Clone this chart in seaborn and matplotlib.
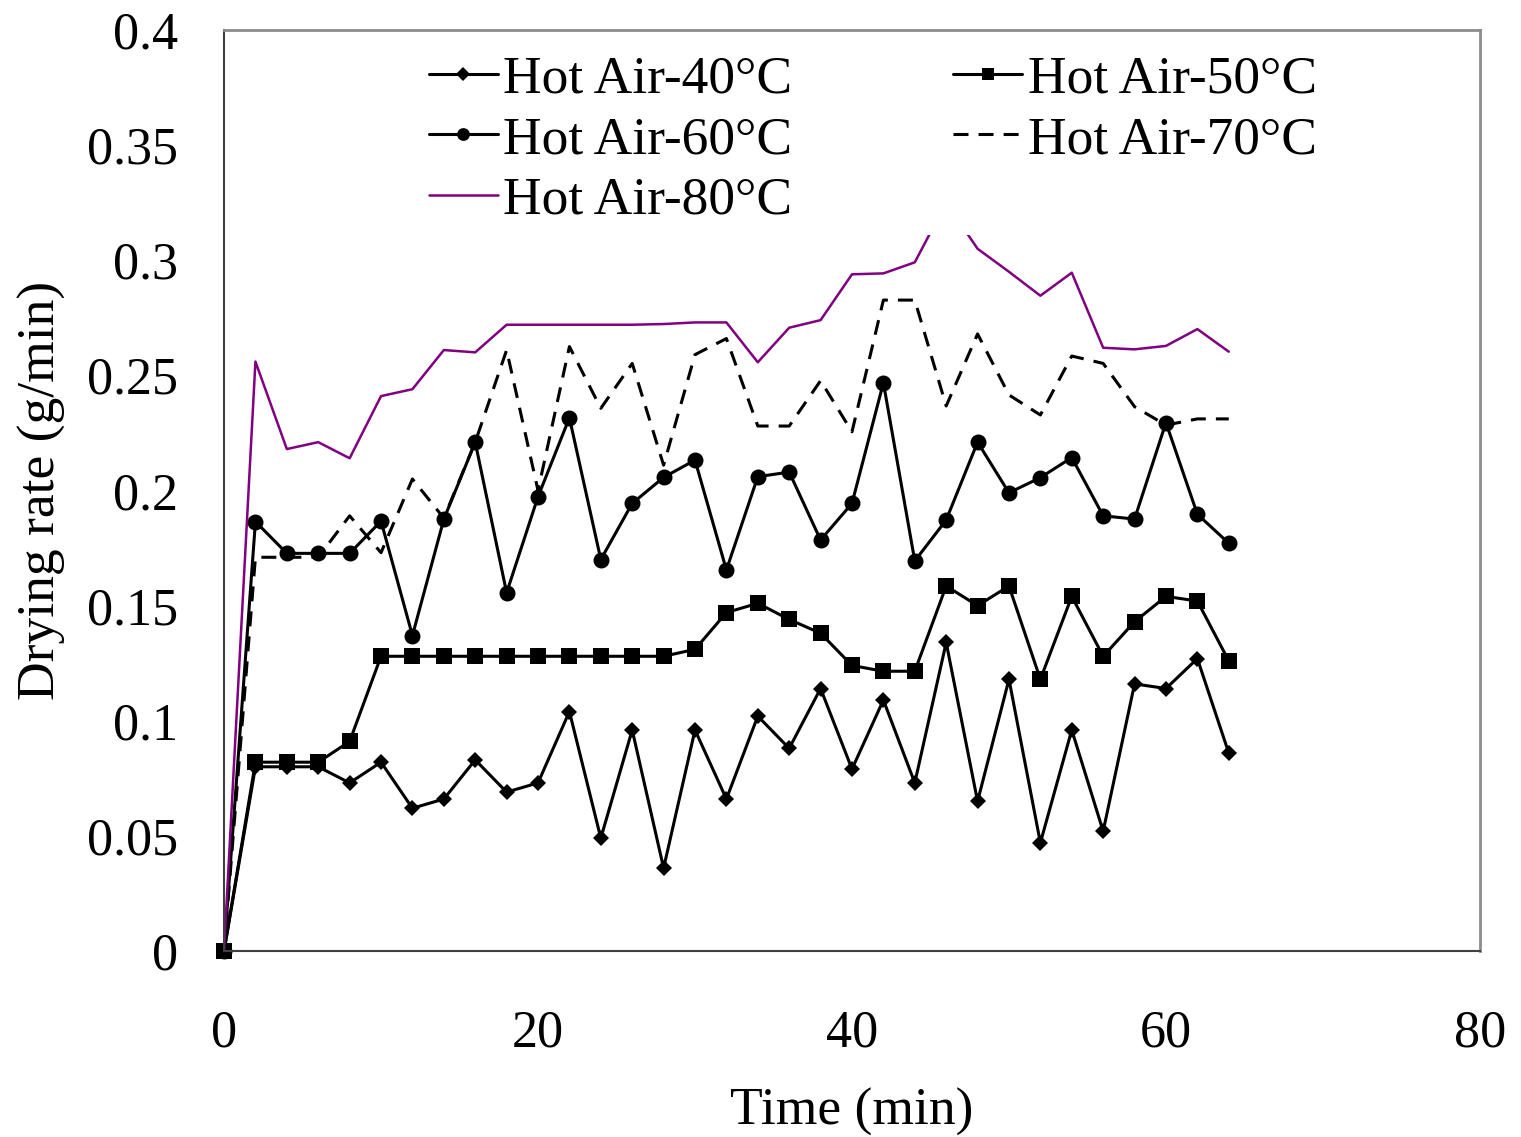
import numpy as np
import seaborn as sns
import matplotlib
matplotlib.use("Agg")
import matplotlib.pyplot as plt

# Time (min)
time_min = list(range(0, 66, 2))

# Drying rate (g/min) for each hot air temperature
hot_air_40 = [0, 0.080, 0.080, 0.080, 0.073, 0.082, 0.062, 0.066, 0.083, 0.069, 0.073,
              0.104, 0.049, 0.096, 0.036, 0.096, 0.066, 0.102, 0.088, 0.114, 0.079,
              0.109, 0.073, 0.134, 0.065, 0.118, 0.047, 0.096, 0.052, 0.116, 0.114,
              0.127, 0.086]
hot_air_50 = [0, 0.082, 0.082, 0.082, 0.091, 0.128, 0.128, 0.128, 0.128, 0.128, 0.128,
              0.128, 0.128, 0.128, 0.128, 0.131, 0.147, 0.151, 0.144, 0.138, 0.124,
              0.1215, 0.1215, 0.1585, 0.150, 0.1585, 0.118, 0.154, 0.128, 0.143, 0.154,
              0.152, 0.126]
hot_air_60 = [0, 0.1865, 0.1727, 0.1727, 0.1727, 0.1867, 0.137, 0.1875, 0.221, 0.1556, 0.1973,
              0.2316, 0.170, 0.1944, 0.2057, 0.2132, 0.1655, 0.206, 0.208, 0.1785, 0.1944,
              0.2468, 0.1694, 0.1872, 0.221, 0.199, 0.2056, 0.2143, 0.189, 0.1876, 0.2295,
              0.1897, 0.1771]
hot_air_70 = [0, 0.171, 0.171, 0.171, 0.189, 0.173, 0.205, 0.188, 0.221, 0.261, 0.200,
              0.2625, 0.2357, 0.2552, 0.211, 0.259, 0.266, 0.228, 0.228, 0.2477, 0.2255,
              0.2827, 0.2827, 0.2367, 0.268, 0.2415, 0.2328, 0.2584, 0.2552, 0.2364, 0.2284,
              0.2311, 0.2311]
hot_air_80 = [0, 0.256, 0.218, 0.221, 0.214, 0.241, 0.244, 0.261, 0.260, 0.272, 0.272,
              0.272, 0.272, 0.272, 0.2723, 0.273, 0.273, 0.2557, 0.2707, 0.274, 0.2939,
              0.2943, 0.2991, 0.325, 0.305, 0.295, 0.2846, 0.2946, 0.262, 0.2613, 0.2628,
              0.2701, 0.2603]

labels = ["Hot Air-40°C", "Hot Air-50°C", "Hot Air-60°C", "Hot Air-70°C", "Hot Air-80°C"]

sns.set_style("white")
plt.rcParams['font.family'] = ['Liberation Serif', 'DejaVu Serif']
plt.rcParams['text.color'] = 'black'
plt.rcParams['axes.labelcolor'] = 'black'

fig = plt.figure(figsize=(15.21, 11.37), dpi=100)
ax = fig.add_axes([0.1473, 0.1636, 0.973 - 0.1473, 0.9736 - 0.1636])

lw = 2.2
sns.lineplot(x=time_min, y=hot_air_40, ax=ax, color="black", lw=lw, marker="D",
             markersize=8.5, markeredgewidth=0, label=labels[0], clip_on=False)
sns.lineplot(x=time_min, y=hot_air_50, ax=ax, color="black", lw=lw, marker="s",
             markersize=11, markeredgewidth=0, label=labels[1], clip_on=False)
sns.lineplot(x=time_min, y=hot_air_60, ax=ax, color="black", lw=lw, marker="o",
             markersize=11.5, markeredgewidth=0, label=labels[2], clip_on=False)
sns.lineplot(x=time_min, y=hot_air_70, ax=ax, color="black", lw=lw,
             linestyle=(0, (4.9, 3.3)), label=labels[3])
sns.lineplot(x=time_min, y=hot_air_80, ax=ax, color="#800080", lw=1.8, label=labels[4])

ax.set_xlim(0, 80)
ax.set_ylim(0, 0.4)
ax.set_xticks([0, 20, 40, 60, 80])
ax.set_yticks(np.arange(0, 0.41, 0.05))
ax.set_yticklabels(["0", "0.05", "0.1", "0.15", "0.2", "0.25", "0.3", "0.35", "0.4"])

ax.tick_params(axis="both", which="major", direction="out", length=11, width=1,
               color="#808080", labelsize=37.5, labelcolor="black")
ax.tick_params(axis="y", pad=22)
ax.tick_params(axis="x", pad=31)

for side in ["left", "bottom"]:
    ax.spines[side].set_color("#404040")
    ax.spines[side].set_linewidth(1.5)
for side in ["top", "right"]:
    ax.spines[side].set_color("#8c8c8c")
    ax.spines[side].set_linewidth(2)

ax.set_xlabel("Time (min)", fontsize=38.5, labelpad=22)
ax.set_ylabel("Drying rate (g/min)", fontsize=38.5, labelpad=15)

handles, labs = ax.get_legend_handles_labels()
order = [0, 2, 4, 1, 3]
leg = ax.legend([handles[i] for i in order], [labs[i] for i in order], ncol=2,
                loc="upper left", bbox_to_anchor=(0.133, 1.013), fontsize=38.5,
                frameon=True, facecolor="white", edgecolor="none", framealpha=1,
                handlelength=1.3, handletextpad=0.1, columnspacing=3.0,
                labelspacing=0.22, borderpad=0.2, markerscale=0.8, fancybox=False)

fig.savefig("out.png", dpi=100)
